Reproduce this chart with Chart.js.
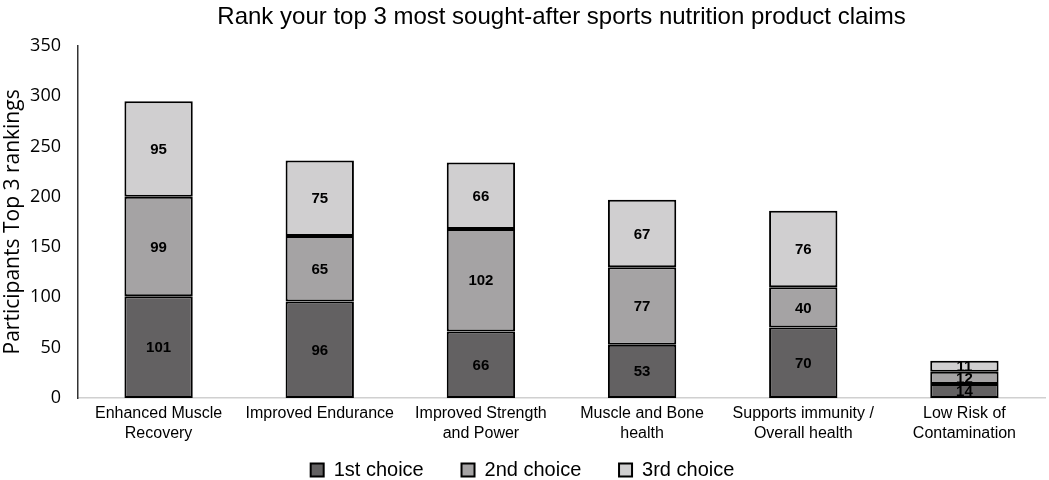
<!DOCTYPE html>
<html>
<head>
<meta charset="utf-8">
<script src="https://cdn.jsdelivr.net/npm/chart.js@4"></script>
<style>
  html, body { margin: 0; padding: 0; background: #fff; }
  #wrap { width: 1049px; height: 480px; }
</style>
</head>
<body>
<div id="wrap"><canvas id="rankChart"></canvas></div>
<script>
const categories = [
    ['Enhanced Muscle', 'Recovery'],
    ['Improved Endurance'],
    ['Improved Strength', 'and Power'],
    ['Muscle and Bone', 'health'],
    ['Supports immunity /', 'Overall health'],
    ['Low Risk of', 'Contamination'],
];
const firstChoice = [101, 96, 66, 53, 70, 14];
const secondChoice = [99, 65, 102, 77, 40, 12];
const thirdChoice = [95, 75, 66, 67, 76, 11];

Chart.defaults.font.family = '"Liberation Sans", Arial, sans-serif';
Chart.defaults.color = '#000';

// draws the value in the middle of each segment
const segmentLabels = {
    id: 'segmentLabels',
    afterDatasetsDraw(chart) {
        const ctx = chart.ctx;
        ctx.save();
        ctx.font = 'bold 15px "Liberation Sans", Arial, sans-serif';
        ctx.fillStyle = '#000';
        ctx.textAlign = 'center';
        ctx.textBaseline = 'middle';
        chart.data.datasets.forEach((ds, i) => {
            chart.getDatasetMeta(i).data.forEach((bar, j) => {
                const mid = (bar.y + bar.base) / 2;
                ctx.fillText(ds.data[j], bar.x, mid + 1);
            });
        });
        ctx.restore();
    }
};

const segment = (label, data, color) => ({
    label: label,
    data: data,
    backgroundColor: color,
    borderColor: '#000',
    borderWidth: 2,
    borderSkipped: false,
    categoryPercentage: 0.8,
    barPercentage: 0.53,
});

new Chart(document.getElementById('rankChart').getContext('2d'), {
    type: 'bar',
    data: {
        labels: categories,
        datasets: [
            segment('1st choice', firstChoice, '#636162'),
            segment('2nd choice', secondChoice, '#a5a3a4'),
            segment('3rd choice', thirdChoice, '#d0cfd0'),
        ]
    },
    options: {
        animation: false,
        responsive: true,
        maintainAspectRatio: false,
        layout: {
            padding: { left: 0, right: 4, top: 0, bottom: -10 }
        },
        plugins: {
            title: {
                display: true,
                fullSize: false,
                text: 'Rank your top 3 most sought-after sports nutrition product claims',
                font: { size: 24, weight: 'normal' },
                padding: { top: 3, bottom: 14 },
            },
            legend: {
                position: 'bottom',
                labels: {
                    boxWidth: 13,
                    boxHeight: 13,
                    font: { size: 20 },
                    padding: 10,
                    // wider gaps between the entries, like the original
                    generateLabels: (chart) => {
                        const items = Chart.defaults.plugins.legend.labels.generateLabels(chart);
                        items.forEach((item, i) => {
                            if (i < items.length - 1) item.text += '     ';
                        });
                        return items;
                    },
                },
            },
            tooltip: { enabled: false },
        },
        scales: {
            x: {
                stacked: true,
                grid: { display: false, drawTicks: false },
                border: { color: '#d0d0d0', width: 1.5 },
                ticks: {
                    font: { size: 16, lineHeight: '20px' },
                    padding: 6,
                    maxRotation: 0,
                    autoSkip: false,
                },
            },
            y: {
                stacked: true,
                min: 0,
                max: 350,
                afterFit: (scale) => { scale.width = 78; },
                grid: { display: false, drawTicks: true, tickLength: 6, tickColor: '#333' },
                border: { color: '#333', width: 1.5 },
                ticks: {
                    stepSize: 50,
                    font: { size: 18, family: '"Open Sans", sans-serif' },
                    padding: 11,
                },
                title: {
                    display: true,
                    text: 'Participants Top 3 rankings',
                    font: { size: 21, family: '"Open Sans", sans-serif' },
                    padding: { top: 0, bottom: 2 },
                },
            }
        }
    },
    plugins: [segmentLabels]
});
</script>
</body>
</html>
